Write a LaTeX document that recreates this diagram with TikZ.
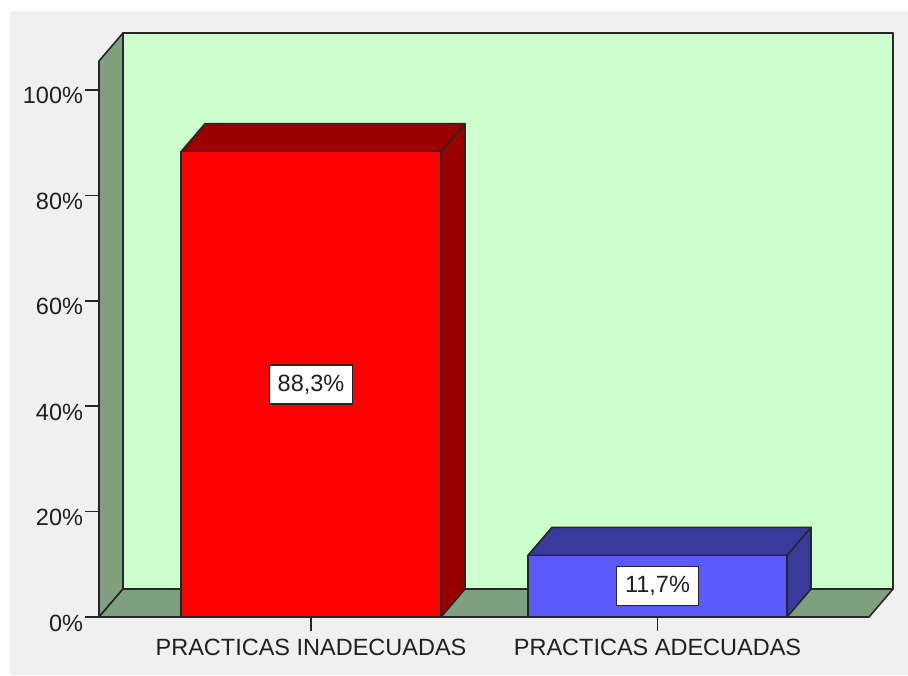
\documentclass[tikz,border=0pt]{standalone}
\usepackage{fontspec}
\setmainfont{Liberation Sans}
\usepackage{tikz}

\definecolor{panelgray}{HTML}{F0F0F0}
\definecolor{wallgreen}{HTML}{CCFFCC}
\definecolor{floorgreen}{HTML}{7FA07F}
\definecolor{barred}{HTML}{FF0000}
\definecolor{barreddark}{HTML}{9A0000}
\definecolor{barblue}{HTML}{5A5AFF}
\definecolor{barbluedark}{HTML}{3A3A9C}
\definecolor{inkgray}{HTML}{202020}

\begin{document}
\begin{tikzpicture}[x=0.5pt, y=0.5pt, line join=round,
  every node/.style={font=\fontsize{11.75}{14}\selectfont, text=inkgray, inner sep=0pt, outer sep=0pt},
  edge3d/.style={draw=black!85, line width=0.8pt},
  valuebox/.style={draw=black!85, fill=white, line width=0.6pt, inner xsep=4.2pt, minimum height=19.5pt}]
\useasboundingbox (0,0) rectangle (908,675);
\fill[white] (0,0) rectangle (908,675);
\fill[panelgray] (10,0) rectangle (908,664);

% walls and floor
\fill[wallgreen, edge3d] (123,86) rectangle (893,642);
\fill[floorgreen, edge3d] (99,58) -- (99,614) -- (123,642) -- (123,86) -- cycle;
\fill[floorgreen, edge3d] (99,58) -- (123,86) -- (893,86) -- (869,58) -- cycle;

% value axis
\draw[edge3d] (85,58) -- (99,58);
\draw[edge3d] (85,163.4) -- (99,163.4);
\draw[edge3d] (85,268.8) -- (99,268.8);
\draw[edge3d] (85,374.2) -- (99,374.2);
\draw[edge3d] (85,479.6) -- (99,479.6);
\draw[edge3d] (85,585) -- (99,585);
\node[anchor=base east] (p0) at (83,44) {0\%};
\node[anchor=base east] (p20) at (83,149.4) {20\%};
\node[anchor=base east] (p40) at (83,254.8) {40\%};
\node[anchor=base east] (p60) at (83,360.2) {60\%};
\node[anchor=base east] (p80) at (83,465.6) {80\%};
\node[anchor=base east] (p100) at (83,571) {100\%};

% bar 1: 88,3%
\fill[barreddark, edge3d] (441,58) -- (441,523.3) -- (465,551.3) -- (465,86) -- cycle;
\fill[barreddark, edge3d] (181,523.3) -- (205,551.3) -- (465,551.3) -- (441,523.3) -- cycle;
\fill[barred, edge3d] (181,58) rectangle (441,523.3);
\node[valuebox] (inadecuadas) at (311,290.6) {88,3\%};

% bar 2: 11,7%
\fill[barbluedark, edge3d] (787,58) -- (787,119.7) -- (811,147.7) -- (811,86) -- cycle;
\fill[barbluedark, edge3d] (528,119.7) -- (552,147.7) -- (811,147.7) -- (787,119.7) -- cycle;
\fill[barblue, edge3d] (528,58) rectangle (787,119.7);
\node[valuebox] (adecuadas) at (657.5,88.8) {11,7\%};

% category axis
\draw[edge3d] (99,58) -- (869,58);
\draw[edge3d] (311,58) -- (311,44);
\draw[edge3d] (657.5,58) -- (657.5,44);
\node[anchor=base] (cat1) at (311,20) {PRACTICAS INADECUADAS};
\node[anchor=base] (cat2) at (657.5,20) {PRACTICAS ADECUADAS};
\end{tikzpicture}
\end{document}
